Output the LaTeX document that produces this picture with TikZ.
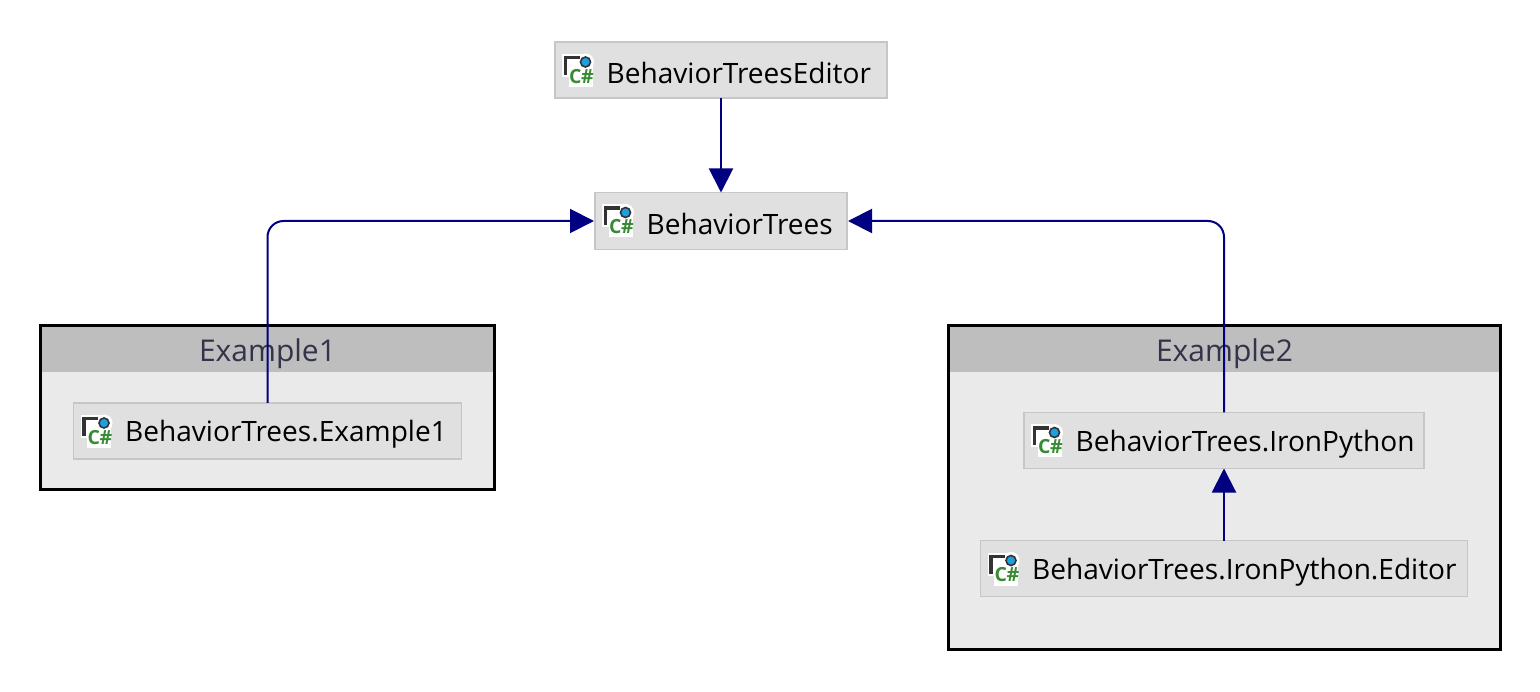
\documentclass[tikz,border=0pt]{standalone}
\usepackage{fontspec}
\setmainfont{Open Sans}
\usetikzlibrary{arrows.meta}
\definecolor{boxfill}{HTML}{E0E0E0}
\definecolor{boxline}{HTML}{C6C6C6}
\definecolor{groupfill}{HTML}{EAEAEA}
\definecolor{headfill}{HTML}{BEBEBE}
\definecolor{headtext}{HTML}{33334A}
\definecolor{linkcol}{HTML}{000080}
\definecolor{iconink}{HTML}{333333}
\definecolor{icongreen}{HTML}{388A34}
\definecolor{iconblue}{HTML}{1BA1E2}
\tikzset{
  x=1pt,y=-1pt,
  modbox/.style={draw=boxline,fill=boxfill,line width=1.1pt,minimum height=56pt,inner sep=0pt,outer sep=0pt},
  modtext/.style={anchor=west,inner sep=0pt,font=\fontsize{28.05}{30}\selectfont,text=black},
  groupbox/.style={fill=groupfill,inner sep=0pt,outer sep=0pt},
  groupedge/.style={draw=black,line width=2.05pt},
  grouphead/.style={fill=headfill,inner sep=0pt,outer sep=0pt,minimum height=47pt,text depth=0pt,font=\fontsize{30}{32}\selectfont,text=headtext},
  link/.style={draw=linkcol,line width=2pt,-{Triangle[length=24pt,width=24pt,fill=linkcol]},rounded corners=16pt},
  csicon/.pic={
    \fill[white] (-1.5,-2) rectangle (19,21);
    \fill[white] (22,6) circle (8.5);
    \fill[white] (5,8) rectangle (29,31);
    \fill[iconink] (0,0) rectangle (16,3.5);
    \fill[iconink] (0,0) rectangle (3.5,19);
    \draw[iconink,line width=1.6pt,fill=iconblue] (22,6) circle (5);
    \node[inner sep=0pt,anchor=west,text=icongreen,font=\bfseries\fontsize{19.5}{20}\selectfont] at (5.5,20.5) {C\kern-0.5pt\#};
  }
}
\begin{document}
\begin{tikzpicture}
\useasboundingbox (0,0) rectangle (1540,692);
% groups
\node[groupbox,minimum width=454pt,minimum height=164pt] (g1) at (267.5,407.5) {};
\node[grouphead,minimum width=454pt,anchor=north] (g1h) at (g1.north) {\raisebox{-2.5pt}{Example1}};
\draw[groupedge] (g1.north west) rectangle (g1.south east);
\node[groupbox,minimum width=552pt,minimum height=324pt] (g2) at (1224.5,487.5) {};
\node[grouphead,minimum width=552pt,anchor=north] (g2h) at (g2.north) {\raisebox{-2.5pt}{Example2}};
\draw[groupedge] (g2.north west) rectangle (g2.south east);
% modules
\node[modbox,minimum width=332pt] (ed) at (721,70) {};
\node[modbox,minimum width=252pt,minimum height=57pt] (bt) at (721,221) {};
\node[modbox,minimum width=388pt] (ex) at (267.5,431) {};
\node[modbox,minimum width=400pt] (ip) at (1224,440.5) {};
\node[modbox,minimum width=487pt] (ipe) at (1224,568.5) {};
% icons
\foreach \n in {ed,bt,ex,ip,ipe}{
  \pic at ([shift={(8.5,14)}]\n.north west) {csicon};
}
% texts
\node[modtext] (edt) at ([xshift=51.5pt,yshift=-3.3pt]ed.west) {BehaviorTreesEditor};
\node[modtext] (btt) at ([xshift=51.5pt,yshift=-3.3pt]bt.west) {BehaviorTrees};
\node[modtext] (ext) at ([xshift=51.5pt,yshift=-3.3pt]ex.west) {BehaviorTrees.Example1};
\node[modtext] (ipt) at ([xshift=51.5pt,yshift=-3.3pt]ip.west) {BehaviorTrees.IronPython};
\node[modtext] (ipet) at ([xshift=51.5pt,yshift=-3.3pt]ipe.west) {BehaviorTrees.IronPython.Editor};
% connectors
\draw[link] (ed.south) -- (bt.north);
\draw[link,shorten >=1pt] (ex.north) |- (bt.west);
\draw[link,shorten >=1pt] (ip.north) |- (bt.east);
\draw[link] (ipe.north) -- (ip.south);
\end{tikzpicture}
\end{document}
